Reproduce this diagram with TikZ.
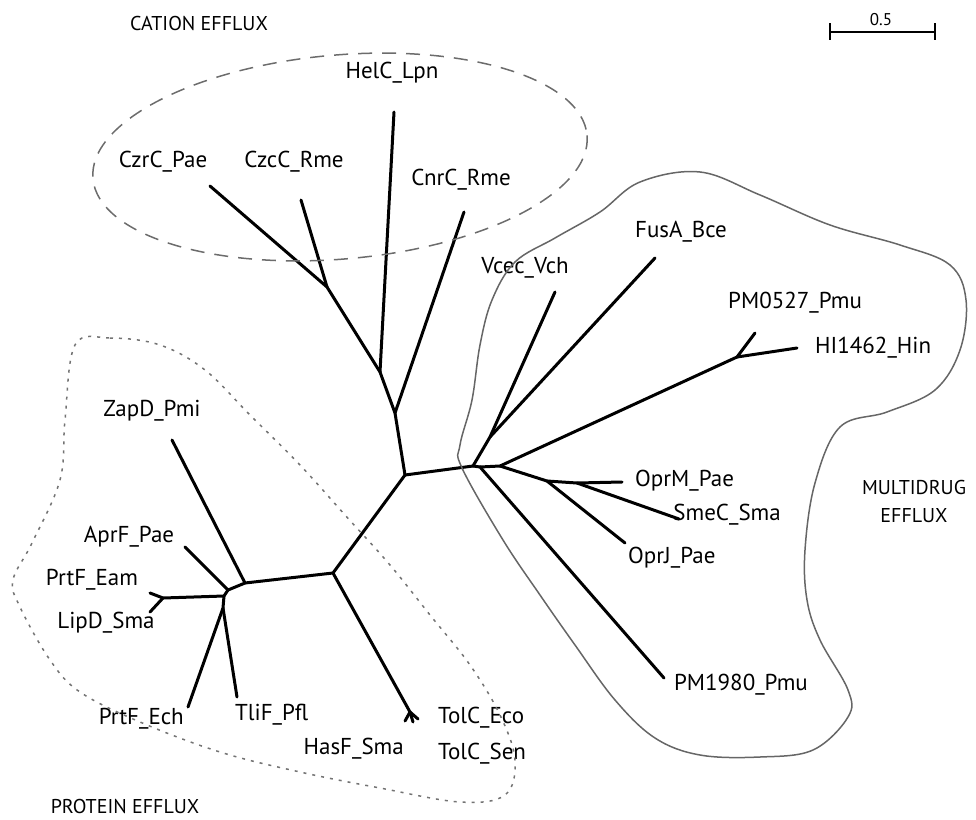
\documentclass[tikz,border=0pt]{standalone}
\usepackage{fontspec}
\setmainfont{PT Sans}
\usetikzlibrary{positioning}

\begin{document}
\begin{tikzpicture}[x=1pt,y=-1pt]
\tikzstyle{every node}+=[inner sep=0pt,font=\fontsize{23}{27}\selectfont]
\tikzstyle{group}=[font=\fontsize{20}{24}\selectfont]
\tikzstyle{branch}=[black,line width=3pt,line cap=round,line join=round]
\tikzstyle{cationline}=[gray!85!black,line width=1.5pt,dash pattern=on 14pt off 10pt]
\tikzstyle{drugline}=[gray!80!black,line width=1.5pt]
\tikzstyle{proteinline}=[gray!90!black,line width=1.5pt,dash pattern=on 3pt off 6pt]
\useasboundingbox (0,0) rectangle (976,819);
% inner nodes
\coordinate (c0) at (405,475);
\coordinate (c1) at (333,573);
\coordinate (k1) at (327,287);
\coordinate (k2) at (380,372);
\coordinate (k3) at (395,413);
\coordinate (p1) at (245,583);
\coordinate (p2) at (228,590);
\coordinate (p3) at (224,596);
\coordinate (p4) at (163,598);
\coordinate (p5) at (223,608);
\coordinate (t1) at (410,712);
\coordinate (m1) at (473,466);
\coordinate (m2) at (490,437);
\coordinate (m3) at (480,467);
\coordinate (m4) at (500,466);
\coordinate (m5) at (737,357);
\coordinate (m6) at (547,481);
\coordinate (m7) at (577,483);
% leaves
\coordinate (czrc) at (210,186);
\coordinate (czcc) at (301,200);
\coordinate (helc) at (394,112);
\coordinate (cnrc) at (464,212);
\coordinate (zapd) at (172,440);
\coordinate (aprf) at (185,547);
\coordinate (prtfeam) at (150,593);
\coordinate (lipd) at (150,612);
\coordinate (prtfech) at (188,707);
\coordinate (tlif) at (237,697);
\coordinate (hasf) at (405,721);
\coordinate (tolceco) at (418,719);
\coordinate (tolcsen) at (413,722);
\coordinate (vcec) at (555,292);
\coordinate (fusa) at (655,258);
\coordinate (pm0527) at (755,333);
\coordinate (hi1462) at (797,348);
\coordinate (oprm) at (622,482);
\coordinate (smec) at (679,519);
\coordinate (oprj) at (625,543);
\coordinate (pm1980) at (664,678);
% branches
\draw [branch] (c0) -- (k3) -- (k2) -- (k1) -- (czrc);
\draw [branch] (k1) -- (czcc);
\draw [branch] (k2) -- (helc);
\draw [branch] (k3) -- (cnrc);
\draw [branch] (c0) -- (c1) -- (p1) -- (zapd);
\draw [branch] (p1) -- (p2) -- (aprf);
\draw [branch] (p2) -- (p3) -- (p4) -- (prtfeam);
\draw [branch] (p4) -- (lipd);
\draw [branch] (p3) -- (p5) -- (prtfech);
\draw [branch] (p5) -- (tlif);
\draw [branch] (c1) -- (t1) -- (hasf);
\draw [branch] (t1) -- (tolceco);
\draw [branch] (t1) -- (tolcsen);
\draw [branch] (c0) -- (m1) -- (m2) -- (vcec);
\draw [branch] (m2) -- (fusa);
\draw [branch] (m1) -- (m3) -- (pm1980);
\draw [branch] (m3) -- (m4) -- (m5) -- (pm0527);
\draw [branch] (m5) -- (hi1462);
\draw [branch] (m4) -- (m6) -- (oprj);
\draw [branch] (m6) -- (m7) -- (oprm);
\draw [branch] (m7) -- (smec);
% leaf names
\node (lczrc) at (163,162) {CzrC\_Pae};
\node (lczcc) at (294,162) {CzcC\_Rme};
\node (lhelc) at (392,73) {HelC\_Lpn};
\node (lcnrc) at (461,180) {CnrC\_Rme};
\node (lzapd) at (152,411) {ZapD\_Pmi};
\node (laprf) at (129,537) {AprF\_Pae};
\node (lprtfeam) at (92,580) {PrtF\_Eam};
\node (llipd) at (106,623) {LipD\_Sma};
\node [anchor=east] (lprtfech) at (184,719) {PrtF\_Ech};
\node [anchor=west] (ltlif) at (235,715) {TliF\_Pfl};
\node [anchor=east] (lhasf) at (404,749) {HasF\_Sma};
\node [anchor=west] (ltolceco) at (438,718) {TolC\_Eco};
\node [anchor=west] (ltolcsen) at (438,754) {TolC\_Sen};
\node (lvcec) at (525,268) {Vcec\_Vch};
\node (lfusa) at (681,232) {FusA\_Bce};
\node [anchor=west] (lpm0527) at (728,303) {PM0527\_Pmu};
\node [anchor=west] (lhi1462) at (815,348) {HI1462\_Hin};
\node [anchor=west] (loprm) at (635,481) {OprM\_Pae};
\node [anchor=east] (lsmec) at (781,515) {SmeC\_Sma};
\node [anchor=west] (loprj) at (628,558) {OprJ\_Pae};
\node [anchor=east] (lpm1980) at (808,685) {PM1980\_Pmu};
% groups
\draw [cationline] (340,157) ellipse [x radius=248,y radius=102,rotate=5];
\node [group] (cation) at (199,23) {CATION EFFLUX};
\draw [drugline] plot [smooth cycle,tension=0.6] coordinates {(462,468) (460,445) (472,400) (480,345) (492,300) (515,262) (555,238) (600,212) (640,182) (700,172) (760,195) (830,225) (900,245) (950,265) (966,300) (960,350) (935,390) (887,412) (840,427) (815,483) (805,550) (807,600) (820,640) (848,690) (848,717) (813,750) (760,757) (700,755) (655,738) (615,700) (575,645) (540,595) (503,540)};
\node [group] (drug) at (914,487) {MULTIDRUG};
\node [group] (drug2) at (914,516) {EFFLUX};
\draw [proteinline] plot [smooth cycle,tension=0.6] coordinates {(75,345) (110,338) (160,345) (205,370) (250,415) (300,465) (345,515) (390,565) (430,615) (470,665) (500,715) (515,760) (505,795) (460,802) (380,788) (300,772) (220,752) (140,722) (80,692) (50,660) (20,607) (13,580) (32,543) (60,480) (65,420)};
\node [group] (protein) at (125,806) {PROTEIN EFFLUX};
% scale bar
\draw [black,line width=1.5pt] (830,23) -- (830,40) (830,32) -- (935,32) (935,23) -- (935,40);
\node (bar) at (881,20) {\fontsize{17}{20}\selectfont 0.5};
\end{tikzpicture}
\end{document}
